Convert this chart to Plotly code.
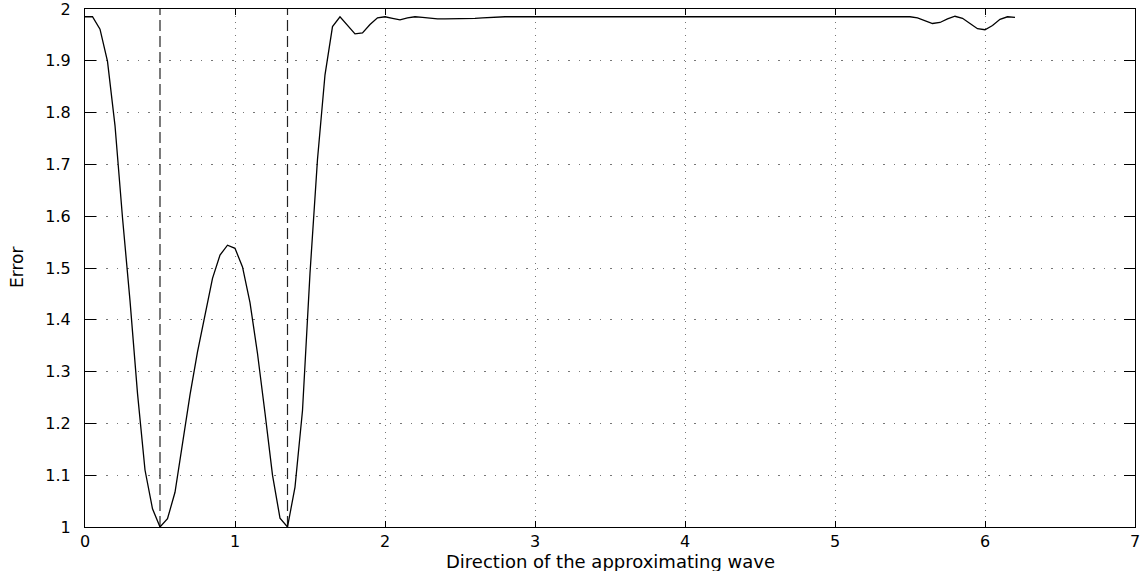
import plotly.graph_objects as go

# Sampled direction values (step 0.05 from 0 to 6.2)
directions = [round(i * 0.05, 2) for i in range(125)]

error_head = [
    1.985, 1.985, 1.961, 1.899, 1.775, 1.597, 1.437, 1.258, 1.110, 1.035,  # 0.00-0.45
    1.000, 1.016, 1.067, 1.165, 1.255, 1.338, 1.412, 1.480, 1.525, 1.544,  # 0.50-0.95
    1.538, 1.502, 1.433, 1.335, 1.220, 1.100, 1.017, 1.000, 1.077, 1.225,  # 1.00-1.45
    1.490, 1.710, 1.873, 1.966, 1.985, 1.968, 1.952, 1.954, 1.970, 1.983,  # 1.50-1.95
    1.985, 1.982, 1.979, 1.983, 1.985, 1.984, 1.982, 1.981, 1.981, 1.981,  # 2.00-2.45
    1.981, 1.981, 1.982, 1.983, 1.984, 1.985,                              # 2.50-2.75
]
error_mid = [
    1.985, 1.985, 1.985, 1.985, 1.985, 1.985, 1.985, 1.985, 1.985, 1.985,  # 2.80-3.25
    1.985, 1.985, 1.985, 1.985, 1.985, 1.985, 1.985, 1.985, 1.985, 1.985,  # 3.30-3.75
    1.985, 1.985, 1.985, 1.985, 1.985, 1.985, 1.985, 1.984, 1.984, 1.984,  # 3.80-4.25
    1.984, 1.984, 1.984, 1.984, 1.985, 1.985, 1.985, 1.985, 1.985, 1.985,  # 4.30-4.75
    1.985, 1.985, 1.985, 1.985, 1.985, 1.985, 1.985, 1.985, 1.985, 1.985,  # 4.80-5.25
    1.985, 1.985, 1.985, 1.985, 1.985,                                     # 5.30-5.50
]
error_tail = [
    1.983, 1.978, 1.972, 1.974, 1.981, 1.986, 1.982, 1.972, 1.962, 1.960,  # 5.55-6.00
    1.968, 1.980, 1.985, 1.984,                                            # 6.05-6.20
]
errors = error_head + error_mid + error_tail

# Directions of the minima (dashed markers)
minima_x = [0.5, 1.35]
minima_y_span = [1.0, 2.0]

x_ticks = [0, 1, 2, 3, 4, 5, 6, 7]
y_ticks = [1.0, 1.1, 1.2, 1.3, 1.4, 1.5, 1.6, 1.7, 1.8, 1.9, 2.0]
y_tick_text = ["1", "1.1", "1.2", "1.3", "1.4", "1.5", "1.6", "1.7", "1.8", "1.9", "2"]

x_title = "Direction of the approximating wave"
y_title = "Error"

FONT = "DejaVu Sans"

fig = go.Figure()

for mx in minima_x:
    fig.add_trace(go.Scatter(
        x=[mx, mx], y=minima_y_span, mode="lines",
        line=dict(color="#222222", width=1.2, dash="11px,5px"),
        showlegend=False, hoverinfo="skip",
    ))

fig.add_trace(go.Scatter(
    x=directions[:len(errors)], y=errors, mode="lines",
    line=dict(color="black", width=1.3),
    showlegend=False,
))

axis_common = dict(
    showline=True, linecolor="black", linewidth=1, mirror="ticks",
    ticks="inside", tickcolor="black", zeroline=False,
    showgrid=True, gridcolor="#777777", gridwidth=1,
    automargin=False, ticklabeloverflow="allow",
)

fig.update_xaxes(
    range=[0, 7], tickvals=x_ticks, ticklen=6,
    griddash="1px,5.5px",
    tickfont=dict(family=FONT, size=16, color="black"),
    ticklabelstandoff=0,
    **axis_common,
)
fig.update_yaxes(
    range=[1, 2], tickvals=y_ticks, ticktext=y_tick_text, ticklen=11,
    griddash="1.5px,9px",
    tickfont=dict(family=FONT, size=16, color="black"),
    ticklabelstandoff=10,
    **axis_common,
)

fig.add_annotation(
    text=x_title, xref="paper", yref="paper", x=0.5, y=0,
    xanchor="center", yanchor="middle", yshift=-34, showarrow=False,
    font=dict(family=FONT, size=18, color="black"),
)
fig.add_annotation(
    text=y_title, xref="paper", yref="paper", x=0, y=0.5,
    xanchor="center", yanchor="middle", xshift=-68, textangle=-90,
    showarrow=False,
    font=dict(family=FONT, size=17, color="black"),
)

fig.update_layout(
    width=1144, height=571,
    margin=dict(l=85, r=9, t=9, b=44),
    plot_bgcolor="white", paper_bgcolor="white",
    showlegend=False,
)

# Remove the default page-body margin so the figure fills the window exactly.
fig.write_html(
    "out.html",
    config={"displayModeBar": False},
    post_script="document.body.style.margin='0';",
)
